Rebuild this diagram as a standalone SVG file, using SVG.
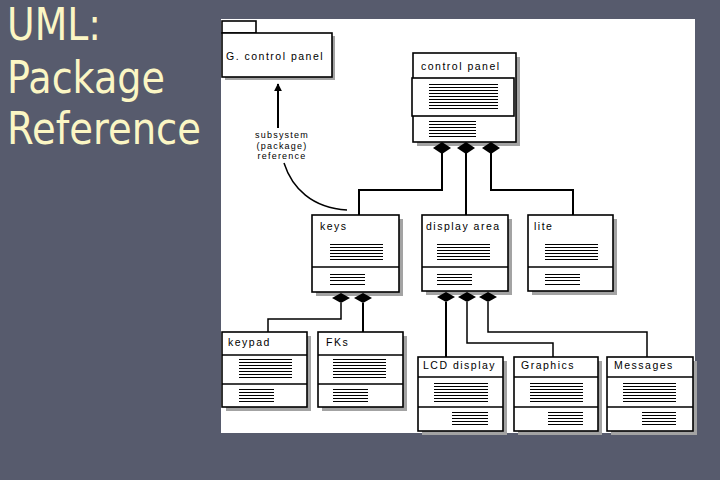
<svg xmlns="http://www.w3.org/2000/svg" width="720" height="480" viewBox="0 0 720 480">
<style>
.bg{fill:#575b6d}
.title{font-family:"DejaVu Sans","Liberation Sans",sans-serif;font-size:44px;fill:#fbf6c4}
.panel{fill:#ffffff}
.shadow{fill:#a3a3a3}
.box{fill:#ffffff;stroke:#000000;stroke-width:1.6}
.div{stroke:#000000;stroke-width:1.4;fill:none}
.stripes{stroke:#000000;stroke-width:1.1;fill:none}
.lbl{font-family:"Liberation Sans",Arial,sans-serif;font-size:10.5px;letter-spacing:1.5px;fill:#000000}
.note{font-family:"Liberation Sans",Arial,sans-serif;font-size:9px;letter-spacing:1.2px;fill:#000000;text-anchor:middle}
.conn{stroke:#000000;stroke-width:2;fill:none}
.thin{stroke:#000000;stroke-width:1.5;fill:none}
.dia{fill:#000000}
</style>
<defs>
<marker id="arr" viewBox="0 0 10 10" refX="9" refY="5" markerWidth="4" markerHeight="4" orient="auto">
<path d="M0,0 L10,5 L0,10 Z" fill="#000000"/>
</marker>
</defs>
<rect class="bg" x="0" y="0" width="720" height="480"/>
<g id="title">
<text class="title" x="7" y="40" textLength="94" lengthAdjust="spacingAndGlyphs">UML:</text>
<text class="title" x="7" y="93" textLength="158" lengthAdjust="spacingAndGlyphs">Package</text>
<text class="title" x="7" y="144" textLength="194" lengthAdjust="spacingAndGlyphs">Reference</text>
</g>
<rect class="panel" x="221" y="19" width="474" height="414"/>

<g id="note">
<text class="note" x="282" y="138">subsystem</text>
<text class="note" x="282" y="148.5">(package)</text>
<text class="note" x="282" y="159">reference</text>
</g>

<g id="pkg-g-control-panel">
<rect class="shadow" x="225" y="36" width="110" height="44"/>
<rect class="box" x="222" y="21" width="34" height="12"/>
<rect class="box" x="222" y="33" width="110" height="44"/>
<text class="lbl" x="226" y="60">G. control panel</text>
</g>

<g id="control-panel">
<rect class="shadow" x="417" y="57" width="103" height="89"/>
<rect class="box" x="413" y="53" width="103" height="89"/>
<rect class="box" x="412" y="78" width="102" height="38"/>
<text class="lbl" x="421" y="70">control panel</text>
<path class="stripes" d="M429,84.5H498M429,87.5H498M429,90.5H498M429,93.5H498M429,96.5H498M429,99.5H498M429,102.5H498M429,105.5H498M429,108.5H498"/>
<path class="stripes" d="M429,121.5H476M429,124.5H476M429,127.5H476M429,130.5H476M429,133.5H476M429,136.5H476"/>
</g>

<g id="keys">
<rect class="shadow" x="316" y="219" width="87" height="77"/>
<rect class="box" x="312" y="215" width="87" height="77"/>
<path class="div" d="M312,267H399"/>
<text class="lbl" x="320" y="230">keys</text>
<path class="stripes" d="M330,244.5H383M330,247.5H383M330,250.5H383M330,253.5H383M330,256.5H383M330,259.5H383"/>
<path class="stripes" d="M330,274.5H365M330,277.5H365M330,280.5H365M330,284.5H365"/>
</g>

<g id="display-area">
<rect class="shadow" x="426" y="219" width="86" height="76"/>
<rect class="box" x="422" y="215" width="86" height="76"/>
<path class="div" d="M422,267H508"/>
<text class="lbl" x="426" y="230">display area</text>
<path class="stripes" d="M437,244.5H490M437,247.5H490M437,250.5H490M437,253.5H490M437,256.5H490M437,259.5H490"/>
<path class="stripes" d="M437,274.5H472M437,277.5H472M437,280.5H472M437,284.5H472"/>
</g>

<g id="lite">
<rect class="shadow" x="532" y="219" width="85" height="76"/>
<rect class="box" x="528" y="215" width="85" height="76"/>
<path class="div" d="M528,267H613"/>
<text class="lbl" x="534" y="230">lite</text>
<path class="stripes" d="M545,244.5H598M545,247.5H598M545,250.5H598M545,253.5H598M545,256.5H598M545,259.5H598"/>
<path class="stripes" d="M545,274.5H580M545,277.5H580M545,280.5H580M545,284.5H580"/>
</g>

<g id="keypad">
<rect class="shadow" x="226" y="336" width="85" height="75"/>
<rect class="box" x="222" y="332" width="85" height="75"/>
<path class="div" d="M222,355H307M222,384H307"/>
<text class="lbl" x="228" y="346">keypad</text>
<path class="stripes" d="M239,359.5H292M239,362.5H292M239,365.5H292M239,368.5H292M239,371.5H292M239,374.5H292M239,377.5H292"/>
<path class="stripes" d="M239,389.5H274M239,392.5H274M239,395.5H274M239,398.5H274M239,401.5H274"/>
</g>

<g id="fks">
<rect class="shadow" x="322" y="336" width="85" height="75"/>
<rect class="box" x="318" y="332" width="85" height="75"/>
<path class="div" d="M318,355H403M318,384H403"/>
<text class="lbl" x="326" y="346">FKs</text>
<path class="stripes" d="M333,359.5H386M333,362.5H386M333,365.5H386M333,368.5H386M333,371.5H386M333,374.5H386M333,377.5H386"/>
<path class="stripes" d="M333,389.5H368M333,392.5H368M333,395.5H368M333,398.5H368M333,401.5H368"/>
</g>

<g id="lcd-display">
<rect class="shadow" x="422" y="361" width="85" height="74"/>
<rect class="box" x="418" y="357" width="85" height="74"/>
<path class="div" d="M418,377H503M418,407H503"/>
<text class="lbl" x="423" y="369">LCD display</text>
<path class="stripes" d="M434,383.5H488M434,386.5H488M434,389.5H488M434,392.5H488M434,395.5H488M434,398.5H488M434,401.5H488"/>
<path class="stripes" d="M452,412.5H488M452,415.5H488M452,418.5H488M452,421.5H488M452,424.5H488"/>
</g>

<g id="graphics">
<rect class="shadow" x="518" y="361" width="84" height="74"/>
<rect class="box" x="514" y="357" width="84" height="74"/>
<path class="div" d="M514,377H598M514,407H598"/>
<text class="lbl" x="521" y="369">Graphics</text>
<path class="stripes" d="M530,383.5H583M530,386.5H583M530,389.5H583M530,392.5H583M530,395.5H583M530,398.5H583M530,401.5H583"/>
<path class="stripes" d="M548,412.5H583M548,415.5H583M548,418.5H583M548,421.5H583M548,424.5H583"/>
</g>

<g id="messages">
<rect class="shadow" x="611" y="361" width="86" height="74"/>
<rect class="box" x="607" y="357" width="86" height="74"/>
<path class="div" d="M607,377H693M607,407H693"/>
<text class="lbl" x="614" y="369">Messages</text>
<path class="stripes" d="M623,383.5H676M623,386.5H676M623,389.5H676M623,392.5H676M623,395.5H676M623,398.5H676M623,401.5H676"/>
<path class="stripes" d="M642,412.5H676M642,415.5H676M642,418.5H676M642,421.5H676M642,424.5H676"/>
</g>

<g id="connectors">
<path class="conn" d="M278,128 V84" marker-end="url(#arr)"/>
<path class="thin" stroke-width="1" d="M284,163 C292,188 312,208 347,210"/>
<path class="conn" d="M442,153 V190 H359 V215"/>
<path class="conn" d="M466,153 V215"/>
<path class="conn" d="M491,153 V190 H573 V215"/>
<path class="thin" d="M341,303 V319 H268 V332"/>
<path class="conn" d="M363,303 V332"/>
<path class="conn" d="M446,302 V357"/>
<path class="thin" d="M467,302 V343 H553 V357"/>
<path class="thin" d="M488,302 V332 H647 V357"/>
<polygon class="dia" points="433,148 442,142 451,148 442,154"/>
<polygon class="dia" points="457,148 466,142 475,148 466,154"/>
<polygon class="dia" points="482,148 491,142 500,148 491,154"/>
<polygon class="dia" points="332,298 341,293 350,298 341,303"/>
<polygon class="dia" points="354,298 363,293 372,298 363,303"/>
<polygon class="dia" points="437,297 446,292 455,297 446,302"/>
<polygon class="dia" points="458,297 467,292 476,297 467,302"/>
<polygon class="dia" points="479,297 488,292 497,297 488,302"/>
</g>
</svg>
